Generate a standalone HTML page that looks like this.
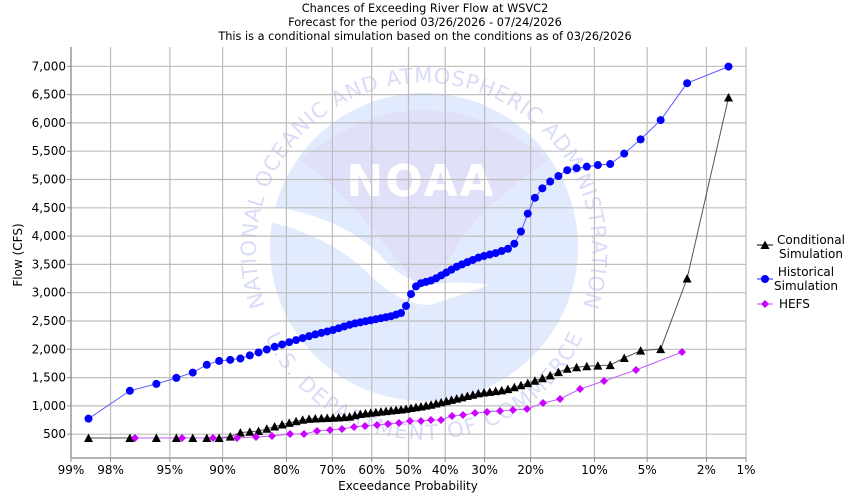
<!DOCTYPE html>
<html><head><meta charset="utf-8"><style>
html,body{margin:0;padding:0;background:#fff}
svg{display:block;font-family:"DejaVu Sans","Liberation Sans",sans-serif}
</style></head><body>
<svg id="c" width="850" height="500" viewBox="0 0 850 500" xmlns="http://www.w3.org/2000/svg">
<defs>
<clipPath id="cc"><circle cx="424" cy="247" r="154"/></clipPath>
<path id="ringTop" d="M 265,305 A 168,168 0 1 1 583,305"/>
<path id="ringBot" d="M 258,318 A 174,174 0 0 0 590,318"/>
</defs>
<g id="logo">
<circle cx="424" cy="247" r="154" fill="#e1ebfd"/>
<g clip-path="url(#cc)">
<path d="M 300,160 Q 424,60 548,160 Q 470,215 455,250 Q 440,275 415,283 Q 390,250 360,215 Q 330,180 300,160 Z" fill="#e0e0f8"/>
<path d="M 262,220 Q 330,235 370,275 Q 400,305 430,305 Q 460,295 490,285 Q 455,280 430,285 Q 400,280 380,255 Q 340,215 262,205 Z" fill="#ffffff"/>
</g>
<text x="421" y="196" text-anchor="middle" font-size="44" font-weight="bold" fill="#ffffff" letter-spacing="2">NOAA</text>
<text font-size="21" fill="#d9dcf6"><textPath href="#ringTop" startOffset="50%" text-anchor="middle" textLength="640" lengthAdjust="spacing">NATIONAL OCEANIC AND ATMOSPHERIC ADMINISTRATION</textPath></text>
<text font-size="21" fill="#d9dcf6"><textPath href="#ringBot" startOffset="50%" text-anchor="middle" textLength="400" lengthAdjust="spacing">U.S. DEPARTMENT OF COMMERCE</textPath></text>
</g>
<g id="grid" stroke="#bdbdbd" stroke-width="1.2"></g>
<g id="axes"></g>
<g id="series"></g>
<g font-size="11.3" fill="#000" text-anchor="middle">
<text x="425" y="12">Chances of Exceeding River Flow at WSVC2</text>
<text x="425" y="26">Forecast for the period 03/26/2026 - 07/24/2026</text>
<text x="425" y="40">This is a conditional simulation based on the conditions as of 03/26/2026</text>
</g>
<g font-size="12" fill="#000" text-anchor="middle">
<text x="408" y="490">Exceedance Probability</text>
<text transform="translate(22,255) rotate(-90)">Flow (CFS)</text>
</g>
<g font-size="12" fill="#000">
<line x1="757" y1="245" x2="773" y2="245" stroke="#000"/><polygon points="765,240.5 769.5,249 760.5,249" fill="#000"/>
<text x="811" y="244" text-anchor="middle">Conditional</text><text x="811" y="258" text-anchor="middle">Simulation</text>
<line x1="757" y1="279" x2="773" y2="279" stroke="#2020ff"/><circle cx="765" cy="279" r="4" fill="#0000ff"/>
<text x="806" y="276" text-anchor="middle">Historical</text><text x="806" y="290" text-anchor="middle">Simulation</text>
<line x1="757" y1="304" x2="773" y2="304" stroke="#bb44ff"/><polygon points="765,300 769,304 765,308 761,304" fill="#cc00ff"/>
<text x="779" y="308">HEFS</text>
</g>
</svg>
<script>
(function(){
var NS="http://www.w3.org/2000/svg";
function el(t,a,p){var e=document.createElementNS(NS,t);for(var k in a)e.setAttribute(k,a[k]);p.appendChild(e);return e;}
function invn(p){
 var a=[-39.69683028665376,220.9460984245205,-275.9285104469687,138.3577518672690,-30.66479806614716,2.506628277459239],
 b=[-54.47609879822406,161.5858368580409,-155.6989798598866,66.80131188771972,-13.28068155288572],
 c=[-0.007784894002430293,-0.3223964580411365,-2.400758277161838,-2.549732539343734,4.374664141464968,2.938163982698783],
 d=[0.007784695709041462,0.3224671290700398,2.445134137142996,3.754408661907416];
 var q,r;
 if(p<0.02425){q=Math.sqrt(-2*Math.log(p));return (((((c[0]*q+c[1])*q+c[2])*q+c[3])*q+c[4])*q+c[5])/((((d[0]*q+d[1])*q+d[2])*q+d[3])*q+1);}
 if(p>1-0.02425){q=Math.sqrt(-2*Math.log(1-p));return -(((((c[0]*q+c[1])*q+c[2])*q+c[3])*q+c[4])*q+c[5])/((((d[0]*q+d[1])*q+d[2])*q+d[3])*q+1);}
 q=p-0.5;r=q*q;return (((((a[0]*r+a[1])*r+a[2])*r+a[3])*r+a[4])*r+a[5])*q/(((((b[0]*r+b[1])*r+b[2])*r+b[3])*r+b[4])*r+1);
}
var L=71,R=746,T=47,B=458;
var s=(R-L)/(2*invn(0.99));
function X(pe){return 408.5+invn(1-pe)*s;}
function Y(v){return 66.3+(7000-v)*0.0566;}
var g=document.getElementById('grid'),ax=document.getElementById('axes');
var xt=[[0.99,"99%"],[0.98,"98%"],[0.95,"95%"],[0.9,"90%"],[0.8,"80%"],[0.7,"70%"],[0.6,"60%"],[0.5,"50%"],[0.4,"40%"],[0.3,"30%"],[0.2,"20%"],[0.1,"10%"],[0.05,"5%"],[0.02,"2%"],[0.01,"1%"]];
xt.forEach(function(t){var x=X(t[0]);el('line',{x1:x,y1:T,x2:x,y2:B},g);
 el('line',{x1:x,y1:B,x2:x,y2:B+4,stroke:'#888'},ax);
 var tx=el('text',{x:x,y:B+16,'font-size':12,'text-anchor':'middle',fill:'#000'},ax);tx.textContent=t[1];});
for(var v=500;v<=7000;v+=500){var y=Y(v);el('line',{x1:L,y1:y,x2:R,y2:y},g);
 el('line',{x1:L-4,y1:y,x2:L,y2:y,stroke:'#888'},ax);
 var tx=el('text',{x:L-5,y:y+4,'font-size':12,'text-anchor':'end',fill:'#000'},ax);tx.textContent=v.toLocaleString('en-US');}
el('line',{x1:L,y1:T,x2:L,y2:B,stroke:'#888','stroke-width':1.2},ax);
el('line',{x1:L,y1:B,x2:R,y2:B,stroke:'#888','stroke-width':1.2},ax);
function interp(k,x){for(var i=0;i<k.length-1;i++){if(x<=k[i+1][0]){var t=(x-k[i][0])/(k[i+1][0]-k[i][0]);return k[i][1]+t*(k[i+1][1]-k[i][1]);}}return k[k.length-1][1];}
var blueK=[[88,419],[129,391],[156,384],[176,378],[192,373],[206,365],[218,361],[239,359],[257,353],[274,347],[293,341],[313,335],[333,330],[352,324],[372,320],[392,316],[404,312],[408,300],[413,290],[418,284],[433,280],[458,266],[480,257],[496,253],[513,247],[517,237],[522,230],[528,213],[534,199],[545,185],[557,177],[569,169],[578,168],[598,165],[611,164],[625,153],[640,140],[660,121],[688,82],[730,66]];
var blackK=[[88,438],[228,438],[236,433],[259,431],[280,425],[306,419],[348,417],[360,414],[405,409],[430,405],[480,393],[505,390],[525,384],[546,377],[569,368],[589,366],[612,365],[626,357],[642,350],[662,349],[688,276],[730,91]];
var mag=[[135,438],[182,438],[213,438],[237,438],[256,437],[272,436],[290,434],[304,434],[317,431],[330,430],[342,429],[354,427],[365,426],[377,425],[388,424],[399,423],[410,421],[421,421],[431,420],[441,420],[452,416],[463,415],[475,413],[487,412],[500,411],[513,410],[527,409],[543,403],[560,399],[580,389],[604,381],[636,370],[682,352]];
var N=72,bl=[],bk=[];
for(var i=1;i<=N;i++){var x=X(i/(N+1));bl.push([x,interp(blueK,x)]);bk.push([x,interp(blackK,x)]);}
var S=document.getElementById('series');
function pl(pts,col){el('polyline',{points:pts.map(function(p){return p[0].toFixed(1)+','+p[1].toFixed(1)}).join(' '),fill:'none',stroke:col,'stroke-width':1},S);}
pl(bk,'#555555');pl(bl,'#5a5aff');pl(mag,'#c060ff');
bk.forEach(function(p){el('polygon',{points:p[0]+','+(p[1]-4.5)+' '+(p[0]+4.5)+','+(p[1]+4)+' '+(p[0]-4.5)+','+(p[1]+4),fill:'#000'},S);});
bl.forEach(function(p){el('circle',{cx:p[0],cy:p[1],r:4,fill:'#0000ff'},S);});
mag.forEach(function(p){el('polygon',{points:p[0]+','+(p[1]-4)+' '+(p[0]+4)+','+p[1]+' '+p[0]+','+(p[1]+4)+' '+(p[0]-4)+','+p[1],fill:'#cc00ff'},S);});
})();
</script>
</body></html>
